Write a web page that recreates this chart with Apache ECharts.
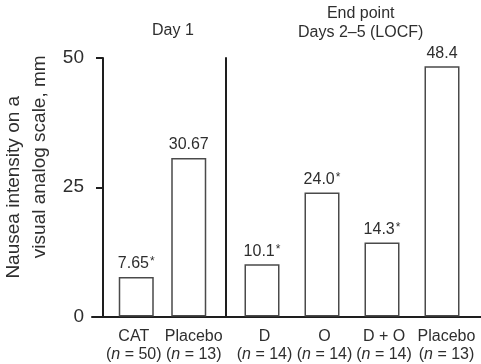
<!DOCTYPE html>
<html>
<head>
<meta charset="utf-8">
<script src="https://cdn.jsdelivr.net/npm/echarts@6/dist/echarts.min.js"></script>
<style>html,body{margin:0;padding:0;background:#fff;}#c{width:481px;height:364px;}</style>
</head>
<body>
<div id="c"></div>
<script>
// ---- data ----
const day1Categories = ['CAT', 'Placebo'];
const day1N = [50, 13];
const day1Values = [7.65, 30.67];
const day1Labels = ['7.65', '30.67'];
const day1Significant = [true, false];

const endCategories = ['D', 'O', 'D + O', 'Placebo'];
const endN = [14, 14, 14, 13];
const endValues = [10.1, 24.0, 14.3, 48.4];
const endLabels = ['10.1', '24.0', '14.3', '48.4'];
const endSignificant = [true, true, true, false];

const yTicks = [0, 25, 50];
const groupTitles = ['Day 1', 'End point\nDays 2\u20135 (LOCF)'];
const yAxisTitle = ['Nausea intensity on a', 'visual analog scale, mm'];

// ---- styling / layout ----
const FONT = '"Liberation Sans", Arial, Helvetica, sans-serif';
const TXT = '#2e2e2e';
const AX = '#1e1e1e';
// label box paddings [top,right,bottom,left] used to nudge the tick labels apart
const day1LabelPad = [[0, 5, 0, 0], [0, 0, 0, 10]];
const endLabelPad = [[0, 0, 0, 5], [0, 0, 0, 5], [0, 0, 0, 4], [0, 0, 0, 9]];

function catData(cats, pads) {
  return cats.map(function (c, i) { return { value: c, textStyle: { padding: pads[i] } }; });
}
function xLabelFormatter(nArr) {
  return function (value, idx) {
    return '{c|' + value + '}\n{p|(}{i|n}{p| = ' + nArr[idx] + ')}';
  };
}
const xRich = {
  c: { fontSize: 16, fontFamily: FONT, color: TXT, lineHeight: 18 },
  p: { fontSize: 16, fontFamily: FONT, color: TXT, lineHeight: 18 },
  i: { fontSize: 16, fontFamily: FONT, color: TXT, fontStyle: 'italic', lineHeight: 18 }
};
function barLabel(labels, sig) {
  return {
    show: true, position: 'top', distance: 5,
    formatter: function (p) {
      return '{v|' + labels[p.dataIndex] + '}' + (sig[p.dataIndex] ? '{s|*}' : '');
    },
    rich: {
      v: { fontSize: 16, fontFamily: FONT, color: TXT },
      s: { fontSize: 12, fontFamily: FONT, color: TXT, verticalAlign: 'top', padding: [0, 0, 0, 1] }
    }
  };
}
const barStyle = { color: '#ffffff', borderColor: '#4a4a4a', borderWidth: 1.5 };

const yMin = yTicks[0], yMax = yTicks[yTicks.length - 1], yStep = yTicks[1] - yTicks[0];

const option = {
  animation: false,
  backgroundColor: '#ffffff',
  grid: [
    { left: 107, right: 266, top: 58, bottom: 47.5 },
    { left: 232, right: 9, top: 58, bottom: 47.5 },
    { left: 92, right: 0, top: 58, bottom: 47.5 }
  ],
  xAxis: [
    { gridIndex: 0, type: 'category', data: catData(day1Categories, day1LabelPad),
      axisLine: { show: false }, axisTick: { show: false },
      axisLabel: { interval: 0, margin: 11, formatter: xLabelFormatter(day1N), rich: xRich } },
    { gridIndex: 1, type: 'category', data: catData(endCategories, endLabelPad),
      axisLine: { show: false }, axisTick: { show: false },
      axisLabel: { interval: 0, margin: 11, formatter: xLabelFormatter(endN), rich: xRich } },
    { gridIndex: 2, type: 'category', data: [''],
      axisLine: { show: true, lineStyle: { color: AX, width: 2 } },
      axisTick: { show: false }, axisLabel: { show: false } }
  ],
  yAxis: [
    { gridIndex: 0, type: 'value', min: yMin, max: yMax, interval: yStep, offset: 7,
      axisLine: { show: true, lineStyle: { color: AX, width: 2 } },
      axisTick: { show: true, length: 7, lineStyle: { color: AX, width: 2 } },
      axisLabel: { margin: 19, fontSize: 19, fontFamily: FONT, color: TXT },
      splitLine: { show: false },
      name: '{a|' + yAxisTitle[0] + '}\n{b|' + yAxisTitle[1] + '}',
      nameLocation: 'middle', nameGap: 50,
      nameTextStyle: {
        fontSize: 19, fontFamily: FONT, color: TXT, lineHeight: 26,
        rich: {
          a: { fontSize: 19, fontFamily: FONT, color: TXT, lineHeight: 26 },
          b: { fontSize: 19, fontFamily: FONT, color: TXT, lineHeight: 26, padding: [0, 0, 0, 61] }
        }
      } },
    { gridIndex: 1, type: 'value', min: yMin, max: yMax, interval: yStep, offset: 6.5,
      axisLine: { show: true, lineStyle: { color: AX, width: 2 } },
      axisTick: { show: false }, axisLabel: { show: false }, splitLine: { show: false } },
    { gridIndex: 2, type: 'value', min: yMin, max: yMax, show: false }
  ],
  graphic: [
    { type: 'text', left: 152, top: 23, style: { text: groupTitles[0], font: '16px ' + FONT, fill: TXT, textAlign: 'left' } },
    { type: 'text', left: 298, top: 4, style: { text: groupTitles[1], font: '16px ' + FONT, fill: TXT, textAlign: 'center', lineHeight: 19 } }
  ],
  series: [
    { type: 'bar', xAxisIndex: 0, yAxisIndex: 0, data: day1Values, barWidth: 35,
      itemStyle: barStyle, label: barLabel(day1Labels, day1Significant) },
    { type: 'bar', xAxisIndex: 1, yAxisIndex: 1, data: endValues, barWidth: 35,
      itemStyle: barStyle, label: barLabel(endLabels, endSignificant) }
  ]
};
echarts.init(document.getElementById('c'), null, { renderer: 'canvas' }).setOption(option);
</script>
</body>
</html>
